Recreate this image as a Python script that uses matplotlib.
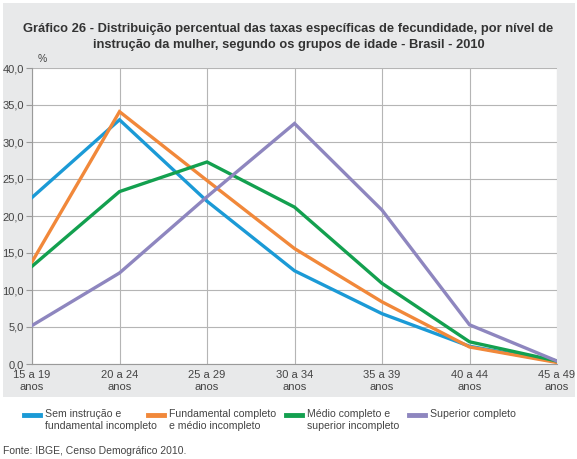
import matplotlib
matplotlib.use("Agg")
import matplotlib.pyplot as plt
from matplotlib.patches import Rectangle
from matplotlib.lines import Line2D
from matplotlib.ticker import FuncFormatter

# Grupos de idade
grupos = ["15 a 19\nanos", "20 a 24\nanos", "25 a 29\nanos", "30 a 34\nanos",
          "35 a 39\nanos", "40 a 44\nanos", "45 a 49\nanos"]

# Distribuicao percentual (%) por nivel de instrucao
sem_instrucao = [22.5, 33.0, 22.0, 12.6, 6.8, 2.4, 0.3]
fundamental = [13.8, 34.1, 24.8, 15.6, 8.4, 2.3, 0.2]
medio = [13.2, 23.3, 27.3, 21.2, 10.9, 3.0, 0.4]
superior = [5.2, 12.3, 22.6, 32.5, 20.8, 5.3, 0.4]

series = [
    ("Sem instrução e\nfundamental incompleto", sem_instrucao, "#1b9ad6"),
    ("Fundamental completo\ne médio incompleto", fundamental, "#f1883a"),
    ("Médio completo e\nsuperior incompleto", medio, "#13a04f"),
    ("Superior completo", superior, "#8e86bf"),
]
legend_x = [24, 148, 286, 409]  # inicio de cada item da legenda (px)

plt.rcParams["font.family"] = ["Liberation Sans", "DejaVu Sans"]
TXT = "#444444"

fig = plt.figure(figsize=(5.77, 4.59), dpi=100)
W, H = 577, 459

# painel cinza atras do grafico
fig.patches.append(Rectangle((3 / W, 1 - 397 / H), 572 / W, 394 / H,
                             transform=fig.transFigure, facecolor="#e8e9ea",
                             edgecolor="none", zorder=-10))

ax = fig.add_axes([32 / W, 1 - 364 / H, 525 / W, 296 / H])
ax.set_facecolor("white")

x = list(range(len(grupos)))
for label, vals, color in series:
    ax.plot(x, vals, color=color, linewidth=2.4, label=label,
            solid_joinstyle="miter", zorder=3)

ax.set_xlim(0, len(grupos) - 1)
ax.set_ylim(0, 40)
ax.set_yticks([0, 5, 10, 15, 20, 25, 30, 35, 40])
ax.yaxis.set_major_formatter(FuncFormatter(lambda v, p: f"{v:.1f}".replace(".", ",")))
ax.set_xticks(x)
ax.set_xticklabels(grupos, linespacing=1.3)

ax.grid(True, color="#b5b5b5", linewidth=0.8, zorder=0)
for s in ["top", "right"]:
    ax.spines[s].set_visible(False)
for s in ["left", "bottom"]:
    ax.spines[s].set_color("#9a9a9a")
    ax.spines[s].set_linewidth(0.8)
ax.tick_params(axis="both", colors="#9a9a9a", labelcolor=TXT, labelsize=8,
               length=4, width=0.8)
ax.tick_params(axis="x", pad=4, length=0)
ax.tick_params(axis="y", pad=2)

ax.text(0.01, 40 + 0.6, "%", transform=ax.get_yaxis_transform(), fontsize=7.5,
        color=TXT, ha="left", va="bottom")

fig.text(0.5, 1 - 37 / H,
         "Gráfico 26 - Distribuição percentual das taxas específicas de fecundidade, por nível de\n"
         "instrução da mulher, segundo os grupos de idade - Brasil - 2010",
         ha="center", va="center", fontsize=9.3, fontweight="bold", color="#333333",
         linespacing=1.5)

# legenda manual: traco alinhado com a primeira linha do texto
for (label, vals, color), lx in zip(series, legend_x):
    y0 = 1 - 415 / H
    fig.add_artist(Line2D([lx / W, (lx + 16) / W], [y0, y0], transform=fig.transFigure,
                          color=color, linewidth=3.5))
    fig.text((lx + 21) / W, 1 - 409 / H, label, ha="left", va="top", fontsize=7.6,
             color=TXT, linespacing=1.3)

fig.text(3 / W, 1 - 451 / H, "Fonte: IBGE, Censo Demográfico 2010.",
         ha="left", va="center", fontsize=7.5, color=TXT)

fig.savefig("out.png", dpi=100, facecolor="white")
